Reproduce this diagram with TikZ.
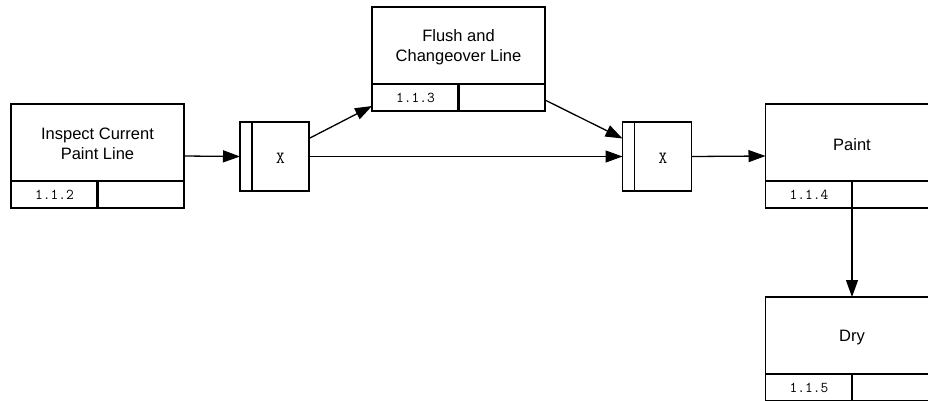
\documentclass[tikz,border=0pt]{standalone}
\usepackage{fontspec}
\setmainfont{Liberation Sans}
\usetikzlibrary{arrows.meta}
\tikzset{
  x=1pt, y=-1pt,
  box/.style={draw, line width=1.3pt, inner sep=0pt, outer sep=0pt},
  act/.style={box, minimum width=173pt, minimum height=104pt},
  lbl/.style={inner sep=0pt, align=center, font=\fontsize{16.5}{19.5}\selectfont},
  idcell/.style={box, minimum width=87pt, minimum height=27pt, font=\fontsize{15}{17}\ttfamily},
  gbar/.style={box, minimum width=12pt, minimum height=69pt},
  gbody/.style={box, minimum width=57pt, minimum height=69pt},
  gx/.style={inner sep=0pt, font=\fontsize{17}{19}\ttfamily},
  arr/.style={line width=1.3pt, -{Triangle[length=17pt,width=12pt]}}
}
\begin{document}
\begin{tikzpicture}
\useasboundingbox (0,0) rectangle (928,400);
\clip (0,0) rectangle (928,400);
\fill[white] (0,0) rectangle (928,400);
% activities
\node[act] (inspect) at (97.5,156) {};
\node[lbl] (inspectl) at (97.5,144) {Inspect Current\\Paint Line};
\node[idcell, anchor=north west] (inspectid) at ([yshift=27pt]inspect.south west) {1.1.2};
\node[idcell, anchor=north east] (inspectx) at ([yshift=27pt]inspect.south east) {};

\node[act] (flush) at (458.5,59) {};
\node[lbl] (flushl) at (458.5,47) {Flush and\\Changeover Line};
\node[idcell, anchor=north west] (flushid) at ([yshift=27pt]flush.south west) {1.1.3};
\node[idcell, anchor=north east] (flushx) at ([yshift=27pt]flush.south east) {};

\node[act] (paint) at (852,156) {};
\node[lbl] (paintl) at (852,145) {Paint};
\node[idcell, anchor=north west] (paintid) at ([yshift=27pt]paint.south west) {1.1.4};
\node[idcell, anchor=north east] (paintx) at ([yshift=27pt]paint.south east) {};

\node[act] (dry) at (852,349) {};
\node[lbl] (dryl) at (852,338) {Dry};
\node[idcell, anchor=north west] (dryid) at ([yshift=27pt]dry.south west) {1.1.5};
\node[idcell, anchor=north east] (dryx) at ([yshift=27pt]dry.south east) {};

% gates
\node[gbar] (g1bar) at (246,156.5) {};
\node[gbody, anchor=west] (g1) at (g1bar.east) {};
\node[gx] (g1x) at ([yshift=-2pt]g1.center) {X};
\node[gbar] (g2bar) at (628.5,156.5) {};
\node[gbody, anchor=west] (g2) at (g2bar.east) {};
\node[gx] (g2x) at ([yshift=-2pt]g2.center) {X};

% connectors
\draw[arr] (inspect.east) -- (g1bar.west);
\draw[arr] ([yshift=18pt]g1.east) -- ([yshift=5pt]flush.south west);
\draw[arr] (g1.east) -- (g2bar.west);
\draw[arr] ([yshift=-41pt]flush.east) -- ([yshift=18pt]g2bar.west);
\draw[arr] (g2.east) -- (paint.west);
\draw[arr] (paint.south) -- (dry.north);
\end{tikzpicture}
\end{document}
